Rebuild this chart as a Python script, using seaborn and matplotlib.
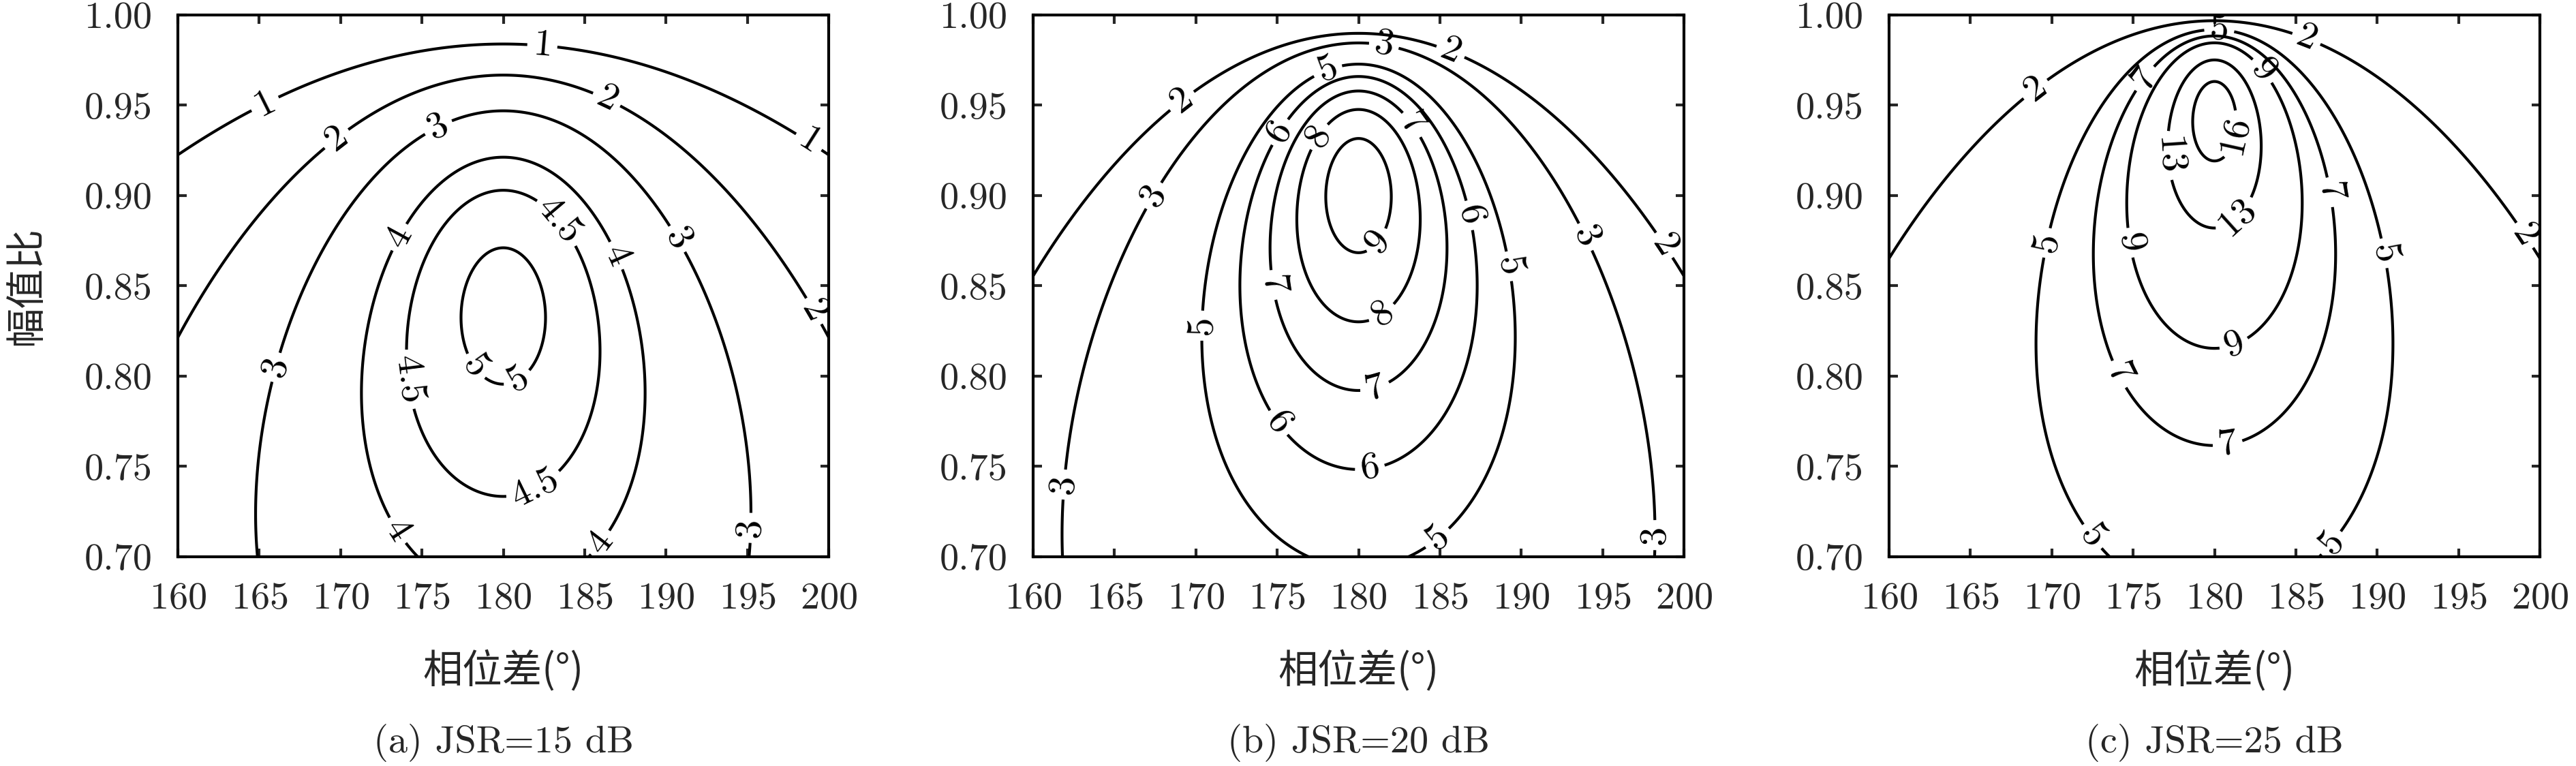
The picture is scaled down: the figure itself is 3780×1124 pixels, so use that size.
import numpy as np
import matplotlib
matplotlib.use("Agg")
import matplotlib.pyplot as plt
import seaborn as sns

# panel settings
jsr_db = [15, 20, 25]
captions = ["(a) JSR=15 dB", "(b) JSR=20 dB", "(c) JSR=25 dB"]
levels_a = [1, 2, 3, 4, 4.5, 5]
levels_b = [2, 3, 5, 6, 7, 8, 9]
levels_c = [2, 5, 7, 9, 13, 16]
phase_ticks = [160, 165, 170, 175, 180, 185, 190, 195, 200]
amp_ticks = [0.70, 0.75, 0.80, 0.85, 0.90, 0.95, 1.00]

# label positions (phase, amplitude ratio)
labels_a = [(165.4, 0.950), (182.4, 0.983), (198.8, 0.930),
            (169.7, 0.932), (186.5, 0.956), (198.9, 0.835),
            (176.0, 0.938), (190.7, 0.876), (166.0, 0.805), (195.2, 0.716),
            (173.4, 0.878), (187.5, 0.869), (173.4, 0.714), (185.8, 0.709),
            (183.3, 0.885), (174.0, 0.798), (182.1, 0.735),
            (177.9, 0.803), (180.9, 0.798)]
labels_b = [(169.1, 0.953), (185.8, 0.983), (198.7, 0.872),
            (181.5, 0.980), (167.4, 0.900), (193.7, 0.876), (161.9, 0.740), (198.2, 0.712),
            (178.0, 0.972), (170.3, 0.828), (190.0, 0.862), (184.7, 0.712),
            (175.2, 0.935), (186.8, 0.889), (175.2, 0.775), (180.7, 0.749),
            (183.4, 0.940), (174.4, 0.850), (180.8, 0.800),
            (177.5, 0.933), (180.9, 0.842),
            (181.0, 0.876)]
labels_c = [(168.9, 0.960), (185.7, 0.988), (198.9, 0.877),
            (180.3, 0.993), (169.6, 0.874), (190.4, 0.868), (172.6, 0.712), (187.0, 0.709),
            (175.7, 0.965), (187.2, 0.902), (173.9, 0.800), (180.8, 0.763),
            (182.8, 0.968), (174.9, 0.874), (181.1, 0.820),
            (176.9, 0.922), (181.5, 0.887),
            (181.0, 0.934)]

sns.set_style("ticks")
plt.rcParams["font.family"] = ["cmr10", "Noto Sans CJK SC", "DejaVu Sans"]
plt.rcParams["axes.formatter.use_mathtext"] = True
plt.rcParams["axes.unicode_minus"] = False
cjk = ["Noto Sans CJK SC", "DejaVu Sans"]

fig = plt.figure(figsize=(12.6, 3.7467), dpi=300)
lefts = [261 / 3780, 1516 / 3780, 2772 / 3780]
bottom = 1 - 817 / 1124
width = 955 / 3780
height = 795 / 1124

phase = np.linspace(160, 200, 801)
amp = np.linspace(0.70, 1.00, 601)
P, A = np.meshgrid(phase, amp)

all_levels = [levels_a, levels_b, levels_c]
all_labels = [labels_a, labels_b, labels_c]

for i in range(3):
    ax = fig.add_axes([lefts[i], bottom, width, height])
    # cross-eye gain with skin return
    skin = 10 ** (-jsr_db[i] / 10)
    Z = (1 - A ** 2) / (1 + A ** 2 + 2 * A * np.cos(np.deg2rad(P)) + skin)
    cs = ax.contour(P, A, Z, levels=all_levels[i], colors="black", linewidths=1.0)
    ax.clabel(cs, cs.levels, manual=all_labels[i], inline=True, inline_spacing=8,
              fmt=lambda v: "%g" % v, fontsize=13.5)
    ax.set_xlim(160, 200)
    ax.set_ylim(0.70, 1.00)
    ax.set_xticks(phase_ticks)
    ax.set_yticks(amp_ticks)
    ax.set_yticklabels(["%.2f" % t for t in amp_ticks])
    ax.tick_params(direction="in", top=True, right=True, length=3, width=1.0,
                   labelsize=13.5, pad=9)
    for s in ax.spines.values():
        s.set_linewidth(1.0)
        s.set_color("black")
    ax.set_xlabel("相位差(°)", fontsize=14, labelpad=12, family=cjk)
    if i == 0:
        ax.set_ylabel("幅值比", fontsize=14, labelpad=13, family=cjk)
    fig.text(lefts[i] + width / 2, 1 - 1090 / 1124, captions[i],
             ha="center", va="center", fontsize=13.5)

fig.savefig("out.png", dpi=300)
